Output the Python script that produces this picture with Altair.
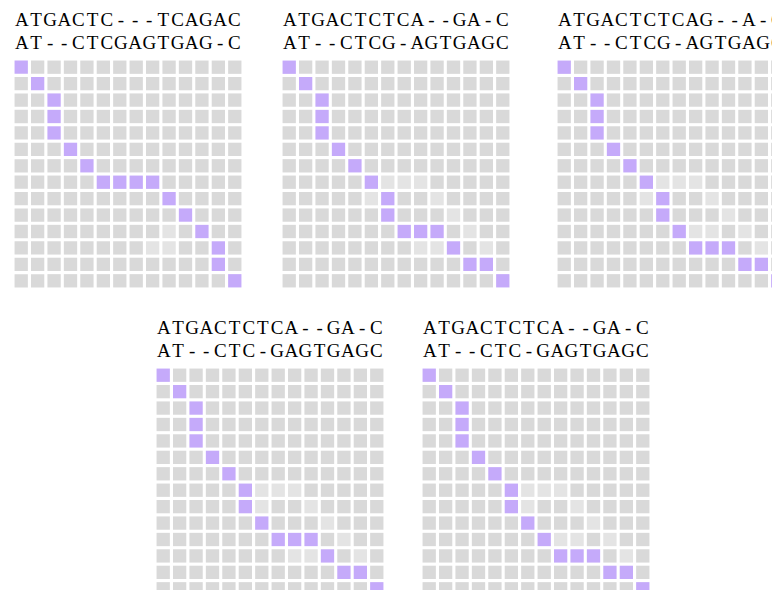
import altair as alt
import pandas as pd

N = 14
STATES = ["normal", "light", "path"]
COLORS = ["#d9d9d9", "#e4e4e4", "#c5aafa"]

TOPS = ["ATGACTC---TCAGAC", "ATGACTCTCA--GA-C", "ATGACTCTCAG--A-C",
        "ATGACTCTCA--GA-C", "ATGACTCTCA--GA-C"]
BOTTOMS = ["AT--CTCGAGTGAG-C", "AT--CTCG-AGTGAGC", "AT--CTCG-AGTGAGC",
           "AT--CTC-GAGTGAGC", "AT--CTC-GAGTGAGC"]

PATH_1 = [(0, 0), (1, 1), (2, 2), (3, 2), (4, 2), (5, 3), (6, 4), (7, 5), (7, 6), (7, 7), (7, 8),
          (8, 9), (9, 10), (10, 11), (11, 12), (12, 12), (13, 13)]
PATH_2 = [(0, 0), (1, 1), (2, 2), (3, 2), (4, 2), (5, 3), (6, 4), (7, 5), (8, 6), (9, 6), (10, 7),
          (10, 8), (10, 9), (11, 10), (12, 11), (12, 12), (13, 13)]
PATH_3 = [(0, 0), (1, 1), (2, 2), (3, 2), (4, 2), (5, 3), (6, 4), (7, 5), (8, 6), (9, 6), (10, 7),
          (11, 8), (11, 9), (11, 10), (12, 11), (12, 12), (13, 13)]
PATH_4 = [(0, 0), (1, 1), (2, 2), (3, 2), (4, 2), (5, 3), (6, 4), (7, 5), (8, 5), (9, 6), (10, 7),
          (10, 8), (10, 9), (11, 10), (12, 11), (12, 12), (13, 13)]
PATH_5 = [(0, 0), (1, 1), (2, 2), (3, 2), (4, 2), (5, 3), (6, 4), (7, 5), (8, 5), (9, 6), (10, 7),
          (11, 8), (11, 9), (11, 10), (12, 11), (12, 12), (13, 13)]

LIGHT_1 = [(10, 9), (11, 8), (11, 9)]
LIGHT_2 = [(7, 6), (7, 7), (7, 8), (8, 5), (8, 9), (9, 10), (10, 11), (11, 8), (11, 9), (11, 12)]
LIGHT_3 = [(7, 6), (7, 7), (7, 8), (8, 5), (8, 9), (9, 10), (10, 8), (10, 9), (10, 11), (11, 12)]
LIGHT_4 = [(7, 6), (7, 7), (7, 8), (8, 6), (8, 9), (9, 10), (10, 11), (11, 8), (11, 9), (11, 12)]
LIGHT_5 = [(7, 6), (7, 7), (7, 8), (8, 6), (8, 9), (9, 10), (10, 8), (10, 9), (10, 11), (11, 12)]

PATHS = [PATH_1, PATH_2, PATH_3, PATH_4, PATH_5]
LIGHTS = [LIGHT_1, LIGHT_2, LIGHT_3, LIGHT_4, LIGHT_5]

SIZE = 230     # grid size in px
HEAD = 51      # room above the grid for the two sequence lines


def panel(k):
    path = set(PATHS[k])
    light = set(LIGHTS[k])
    rows = []
    for r in range(N):
        for c in range(N):
            st = "path" if (r, c) in path else ("light" if (r, c) in light else "normal")
            rows.append({"row": r, "col": c, "state": st})
    cells = pd.DataFrame(rows)

    chars = []
    for line, s in enumerate([TOPS[k], BOTTOMS[k]]):
        for i, ch in enumerate(s):
            chars.append({"line": line, "idx": i, "ch": ch})
    chars = pd.DataFrame(chars)

    grid = alt.Chart(cells).mark_rect().encode(
        x=alt.X("col:O", axis=None, scale=alt.Scale(paddingInner=0.19, paddingOuter=0.095)),
        y=alt.Y("row:O", axis=None,
                scale=alt.Scale(paddingInner=0.19, paddingOuter=0.095, range=[HEAD, HEAD + SIZE])),
        color=alt.Color("state:N", scale=alt.Scale(domain=STATES, range=COLORS), legend=None),
    )

    def text_line(line, ypos):
        return alt.Chart(chars).transform_filter(alt.datum.line == line).mark_text(
            font="Liberation Serif", fontSize=19, baseline="alphabetic", align="center",
            color="#000000",
        ).encode(
            x=alt.X("idx:O", axis=None, scale=alt.Scale(type="point", padding=0.62)),
            y=alt.value(ypos),
            text="ch:N",
        )

    return alt.layer(grid, text_line(0, HEAD - 33), text_line(1, HEAD - 10)).resolve_scale(
        x="independent"
    ).properties(width=SIZE, height=HEAD + SIZE)


spacer = alt.Chart(pd.DataFrame({"v": [0]})).mark_point(size=0, opacity=0).encode(
    x=alt.value(0), y=alt.value(0)
).properties(width=106, height=1)

top = alt.hconcat(alt.hconcat(panel(0), panel(1), spacing=38), panel(2), spacing=45)
bottom = alt.hconcat(spacer, panel(3), panel(4), spacing=36)
chart = alt.vconcat(top, bottom, spacing=27).properties(
    padding={"left": 5, "top": 0, "right": -14, "bottom": 5}
).configure_view(stroke=None)

chart.save("out.html", embed_options={"renderer": "svg", "actions": False})
